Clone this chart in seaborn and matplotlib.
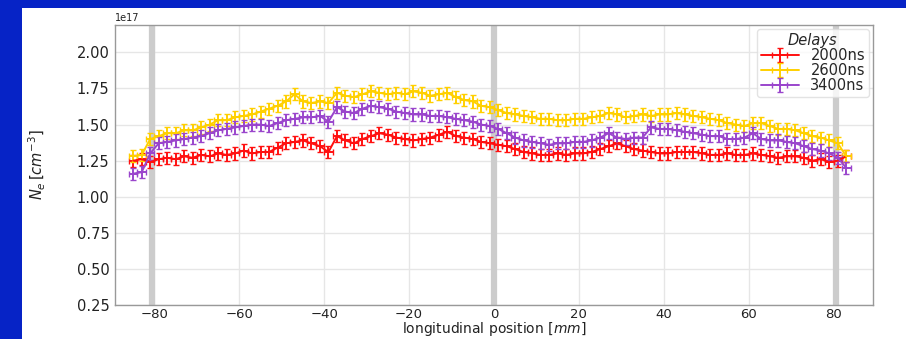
import numpy as np
import matplotlib
matplotlib.use("Agg")
import matplotlib.pyplot as plt
import seaborn as sns
from matplotlib.patches import Rectangle

positions = list(range(-85, 85, 2))

ne_2000 = [1.25, 1.26, 1.24, 1.26, 1.27, 1.26, 1.28, 1.27, 1.29, 1.28,
           1.30, 1.29, 1.30, 1.32, 1.30, 1.31, 1.31, 1.34, 1.37, 1.38,
           1.39, 1.37, 1.35, 1.31, 1.42, 1.39, 1.37, 1.40, 1.42, 1.44,
           1.43, 1.41, 1.40, 1.39, 1.40, 1.41, 1.43, 1.45, 1.42, 1.41,
           1.40, 1.38, 1.37, 1.36, 1.35, 1.33, 1.31, 1.30, 1.29, 1.29,
           1.30, 1.29, 1.30, 1.30, 1.31, 1.33, 1.35, 1.37, 1.35, 1.33,
           1.32, 1.31, 1.30, 1.30, 1.31, 1.31, 1.31, 1.30, 1.29, 1.29,
           1.30, 1.29, 1.29, 1.30, 1.29, 1.28, 1.27, 1.28, 1.28, 1.27,
           1.25, 1.26, 1.24, 1.25, 1.28]

ne_2600 = [1.28, 1.29, 1.40, 1.42, 1.44, 1.44, 1.46, 1.46, 1.48, 1.50,
           1.53, 1.53, 1.55, 1.56, 1.57, 1.59, 1.61, 1.63, 1.66, 1.71,
           1.66, 1.65, 1.66, 1.65, 1.72, 1.70, 1.69, 1.71, 1.73, 1.72,
           1.71, 1.72, 1.71, 1.73, 1.72, 1.70, 1.71, 1.72, 1.69, 1.67,
           1.66, 1.63, 1.62, 1.60, 1.58, 1.57, 1.56, 1.55, 1.54, 1.54,
           1.53, 1.53, 1.54, 1.54, 1.55, 1.56, 1.58, 1.57, 1.55, 1.56,
           1.57, 1.56, 1.57, 1.57, 1.58, 1.57, 1.56, 1.55, 1.54, 1.53,
           1.51, 1.50, 1.49, 1.51, 1.51, 1.49, 1.47, 1.47, 1.46, 1.44,
           1.42, 1.41, 1.39, 1.37, 1.28]

ne_3400 = [1.16, 1.17, 1.30, 1.37, 1.38, 1.39, 1.40, 1.41, 1.42, 1.44,
           1.46, 1.47, 1.48, 1.49, 1.50, 1.50, 1.49, 1.51, 1.53, 1.54,
           1.55, 1.55, 1.56, 1.52, 1.62, 1.59, 1.58, 1.61, 1.63, 1.62,
           1.61, 1.59, 1.58, 1.57, 1.57, 1.56, 1.56, 1.55, 1.54, 1.53,
           1.52, 1.50, 1.49, 1.47, 1.44, 1.41, 1.39, 1.38, 1.37, 1.36,
           1.37, 1.37, 1.38, 1.38, 1.39, 1.41, 1.44, 1.41, 1.40, 1.41,
           1.41, 1.48, 1.47, 1.47, 1.46, 1.45, 1.44, 1.43, 1.42, 1.42,
           1.40, 1.40, 1.41, 1.44, 1.40, 1.39, 1.39, 1.38, 1.37, 1.35,
           1.33, 1.32, 1.30, 1.27, 1.20]

delays = ["2000ns", "2600ns", "3400ns"]
series = [ne_2000, ne_2600, ne_3400]
colors = ["#ff1010", "#ffd000", "#9a45cc"]
band_positions = [-80.5, 0, 80.5]

sns.set_theme(style="whitegrid")
plt.rcParams['font.family'] = ['DejaVu Sans']
plt.rcParams.update({
    "axes.edgecolor": "#999999",
    "axes.linewidth": 1.0,
    "grid.color": "#e6e6e6",
    "xtick.major.size": 2.5,
    "ytick.major.size": 3,
    "xtick.color": "#555555",
    "ytick.color": "#555555",
    "xtick.labelcolor": "#222222",
    "ytick.labelcolor": "#222222",
})

fig = plt.figure(figsize=(9.06, 3.39), dpi=100)
fig.patch.set_facecolor("#0623c6")
fig.patches.append(Rectangle((22 / 906, 0), 1 - 22 / 906, 1 - 8 / 339,
                             transform=fig.transFigure, facecolor="white",
                             edgecolor="none", zorder=-10))

ax = fig.add_axes([0.1269, 0.1003, 0.8367, 0.826])
ax.set_zorder(5)
ax.set_facecolor("white")

for b in band_positions:
    ax.axvline(b, color="#cccccc", lw=4.5, zorder=1)

for lab, vals, col in zip(delays, series, colors):
    y = np.array(vals) * 1e17
    ax.errorbar(positions, y, yerr=0.042e17, xerr=1.0, color=col,
                ecolor=col, elinewidth=1.4, lw=1.4, capsize=2,
                label=lab, zorder=3)

ax.set_xlim(-89.3, 89.3)
ax.set_ylim(0.25e17, 2.19e17)
ax.set_xticks([-80, -60, -40, -20, 0, 20, 40, 60, 80])
ax.set_yticks(np.array([0.25, 0.5, 0.75, 1.0, 1.25, 1.5, 1.75, 2.0]) * 1e17)
ax.tick_params(axis="y", labelsize=10.5, pad=1)
ax.tick_params(axis="x", labelsize=9.5, pad=0)
ax.yaxis.get_offset_text().set_fontsize(7)

ax.set_xlabel("longitudinal position [$mm$]", fontsize=10, color="#222222")
ax.xaxis.set_label_coords(0.5, -0.054)
ax.set_ylabel("$N_e\\,[cm^{-3}]$", fontsize=10.5, color="#222222")
ax.yaxis.set_label_coords(-0.088, 0.5)

leg = ax.legend(title="Delays", loc="upper right", fontsize=10.5,
                title_fontproperties={"style": "italic", "size": 10.5},
                frameon=True, borderaxespad=0.3, handlelength=2.6,
                labelspacing=0.0, borderpad=0.25, handletextpad=0.8)
leg.get_frame().set_edgecolor("#dddddd")

fig.savefig("out.png", dpi=100, facecolor=fig.get_facecolor())
